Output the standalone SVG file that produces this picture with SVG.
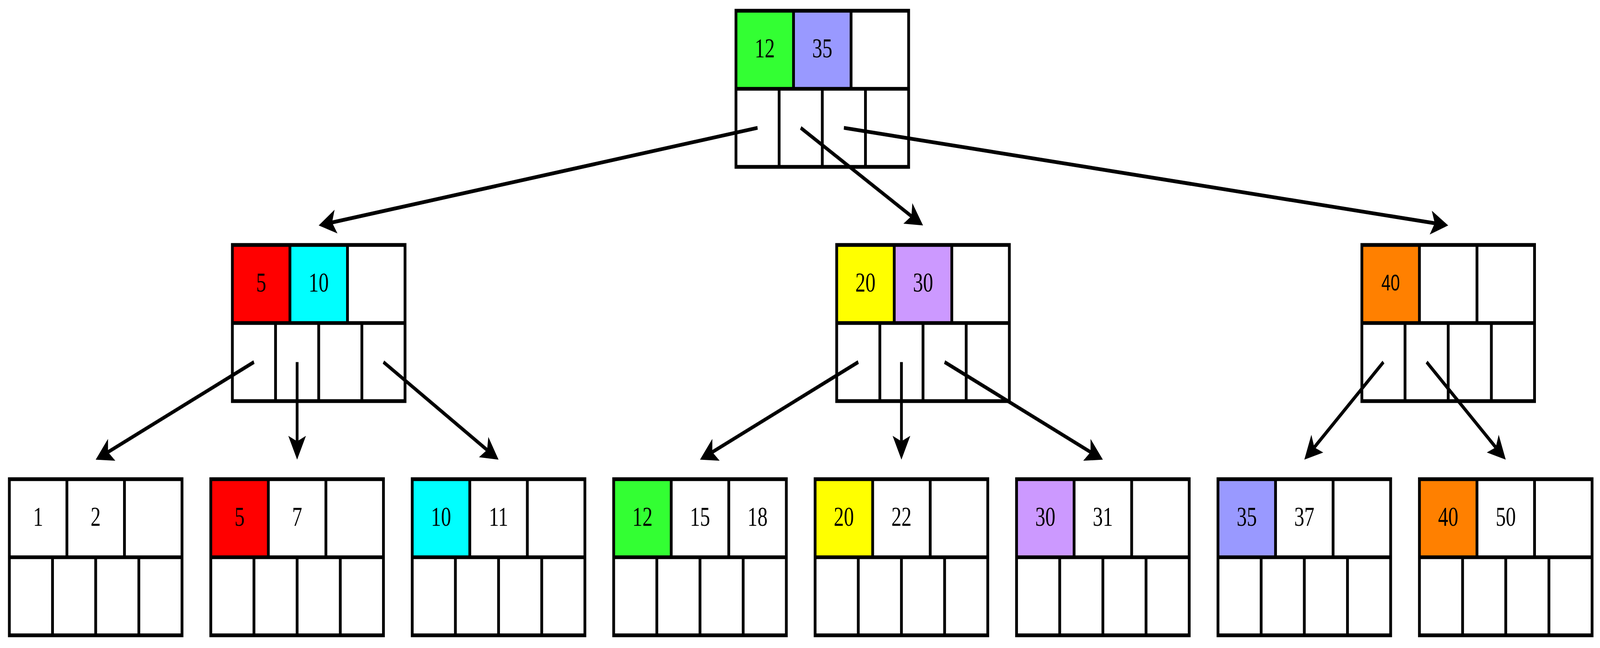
<svg xmlns="http://www.w3.org/2000/svg" width="5560" height="1660" viewBox="0 0 5560 1660" preserveAspectRatio="none">
<style>
:root{width:100vw;height:100vh}
.bg{fill:#ffffff}
.ln{fill:none;stroke:#000;stroke-width:9.7}
.k{font-family:"Liberation Serif","Times New Roman",serif;font-size:70px;text-anchor:middle;fill:#000}
.ks{font-family:"Liberation Sans",Arial,sans-serif;font-size:58px;text-anchor:middle;fill:#000}
.c{fill:none;stroke:#000;stroke-width:9.7;marker-end:url(#ah)}
.g{fill:#33ff33}.b{fill:#9999ff}.r{fill:#ff0000}.cy{fill:#00ffff}.y{fill:#ffff00}.p{fill:#cc99ff}.o{fill:#ff8000}
</style>
<defs>
<marker id="ah" markerUnits="userSpaceOnUse" markerWidth="10" markerHeight="10" refX="0" refY="0" orient="auto" overflow="visible">
<path d="M47,0 L-14,-30.7 L0,0 L-14,30.7 Z" fill="#000"/>
</marker>
<g id="grid">
<rect x="0" y="0" width="600" height="400" class="ln"/>
<path class="ln" d="M0,200H600M200,0V200M400,0V200M150,200V400M300,200V400M450,200V400"/>
</g>
</defs>
<rect class="bg" x="0" y="0" width="5560" height="1660"/>

<g id="root" transform="translate(2557.5,27.5)">
<rect class="g" x="0" y="0" width="200" height="200"/>
<rect class="b" x="200" y="0" width="200" height="200"/>
<use href="#grid"/>
<text class="k" x="100" y="120">12</text>
<text class="k" x="300" y="120">35</text>
</g>

<g id="n-left" transform="translate(807.5,627.5)">
<rect class="r" x="0" y="0" width="200" height="200"/>
<rect class="cy" x="200" y="0" width="200" height="200"/>
<use href="#grid"/>
<text class="k" x="100" y="120">5</text>
<text class="k" x="300" y="120">10</text>
</g>

<g id="n-mid" transform="translate(2907.5,627.5)">
<rect class="y" x="0" y="0" width="200" height="200"/>
<rect class="p" x="200" y="0" width="200" height="200"/>
<use href="#grid"/>
<text class="k" x="100" y="120">20</text>
<text class="k" x="300" y="120">30</text>
</g>

<g id="n-right" transform="translate(4732.5,627.5)">
<rect class="o" x="0" y="0" width="200" height="200"/>
<use href="#grid"/>
<text class="ks" x="100" y="117">40</text>
</g>

<g id="leaf-1-2" transform="translate(32.5,1227.5)">
<use href="#grid"/>
<text class="k" x="100" y="120">1</text>
<text class="k" x="300" y="120">2</text>
</g>

<g id="leaf-5-7" transform="translate(732.5,1227.5)">
<rect class="r" x="0" y="0" width="200" height="200"/>
<use href="#grid"/>
<text class="k" x="100" y="120">5</text>
<text class="k" x="300" y="120">7</text>
</g>

<g id="leaf-10-11" transform="translate(1432.5,1227.5)">
<rect class="cy" x="0" y="0" width="200" height="200"/>
<use href="#grid"/>
<text class="k" x="100" y="120">10</text>
<text class="k" x="300" y="120">11</text>
</g>

<g id="leaf-12-15-18" transform="translate(2132.5,1227.5)">
<rect class="g" x="0" y="0" width="200" height="200"/>
<use href="#grid"/>
<text class="k" x="100" y="120">12</text>
<text class="k" x="300" y="120">15</text>
<text class="k" x="500" y="120">18</text>
</g>

<g id="leaf-20-22" transform="translate(2832.5,1227.5)">
<rect class="y" x="0" y="0" width="200" height="200"/>
<use href="#grid"/>
<text class="k" x="100" y="120">20</text>
<text class="k" x="300" y="120">22</text>
</g>

<g id="leaf-30-31" transform="translate(3532.5,1227.5)">
<rect class="p" x="0" y="0" width="200" height="200"/>
<use href="#grid"/>
<text class="k" x="100" y="120">30</text>
<text class="k" x="300" y="120">31</text>
</g>

<g id="leaf-35-37" transform="translate(4232.5,1227.5)">
<rect class="b" x="0" y="0" width="200" height="200"/>
<use href="#grid"/>
<text class="k" x="100" y="120">35</text>
<text class="k" x="300" y="120">37</text>
</g>

<g id="leaf-40-50" transform="translate(4932.5,1227.5)">
<rect class="o" x="0" y="0" width="200" height="200"/>
<use href="#grid"/>
<text class="k" x="100" y="120">40</text>
<text class="k" x="300" y="120">50</text>
</g>

<g id="connectors">
<line class="c" x1="2632.5" y1="327.5" x2="1153.9" y2="569.9"/>
<line class="c" x1="2782.5" y1="327.5" x2="3167.0" y2="553.7"/>
<line class="c" x1="2932.5" y1="327.5" x2="4985.8" y2="571.9"/>
<line class="c" x1="882.5" y1="927.5" x2="375.3" y2="1158.1"/>
<line class="c" x1="1032.5" y1="927.5" x2="1032.5" y2="1130.5"/>
<line class="c" x1="1332.5" y1="927.5" x2="1692.6" y2="1152.6"/>
<line class="c" x1="2982.5" y1="927.5" x2="2475.3" y2="1158.1"/>
<line class="c" x1="3132.5" y1="927.5" x2="3132.5" y2="1130.5"/>
<line class="c" x1="3282.5" y1="927.5" x2="3789.7" y2="1158.1"/>
<line class="c" x1="4807.5" y1="927.5" x2="4567.3" y2="1145.9"/>
<line class="c" x1="4957.5" y1="927.5" x2="5197.7" y2="1145.9"/>
</g>
</svg>
